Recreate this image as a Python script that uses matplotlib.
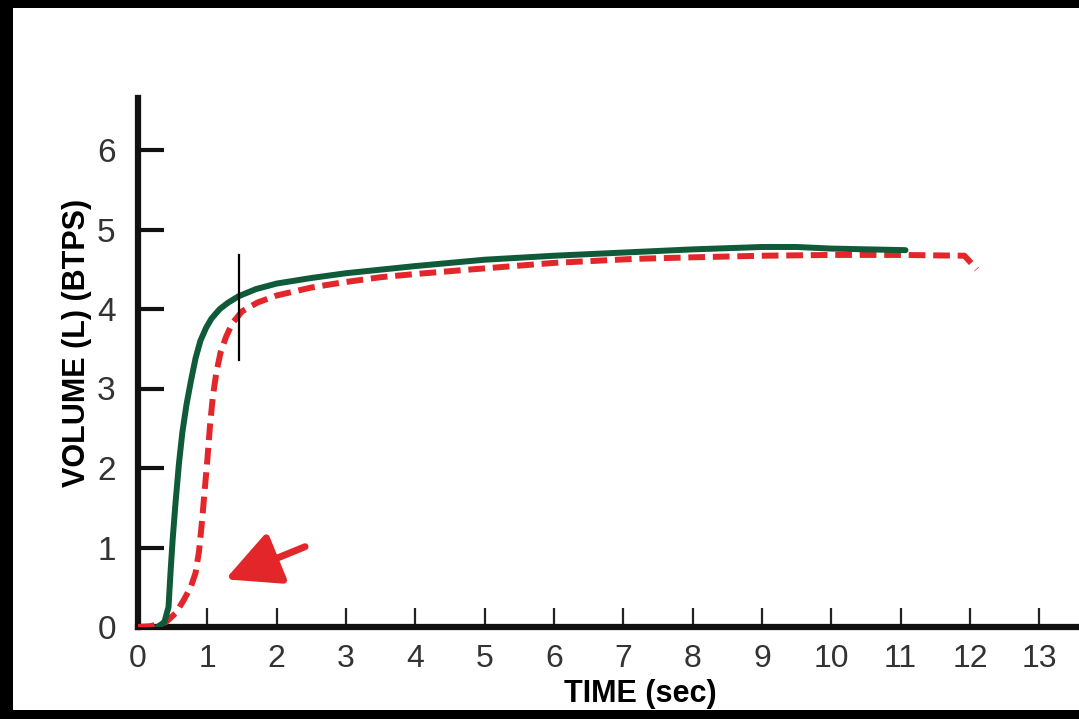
import matplotlib
matplotlib.use("Agg")
import matplotlib.pyplot as plt
from matplotlib.patches import Rectangle

# spirometry volume-time curves
green_t = [0.28, 0.38, 0.44, 0.47, 0.50, 0.54, 0.59, 0.64, 0.70, 0.76, 0.83, 0.90, 0.98,
           1.06, 1.18, 1.30, 1.45, 1.70, 2.00, 2.50, 3.00, 4.00, 5.00, 6.00, 7.00, 8.00,
           9.00, 9.50, 10.00, 11.07]
green_v = [0.00, 0.06, 0.25, 0.70, 1.10, 1.55, 2.05, 2.45, 2.80, 3.08, 3.38, 3.60, 3.76,
           3.88, 4.00, 4.08, 4.16, 4.25, 4.32, 4.39, 4.45, 4.54, 4.62, 4.67, 4.71, 4.75,
           4.78, 4.78, 4.76, 4.74]
red_t = [0.00, 0.18, 0.40, 0.55, 0.66, 0.76, 0.83, 0.88, 0.92, 0.96, 1.00, 1.04, 1.08,
         1.13, 1.19, 1.27, 1.36, 1.50, 1.72, 2.00, 2.50, 2.92, 3.50, 4.00, 4.84, 6.00,
         7.15, 8.00, 9.00, 10.00, 11.00, 11.92, 12.10]
red_v = [0.00, 0.01, 0.06, 0.18, 0.34, 0.50, 0.68, 0.95, 1.30, 1.70, 2.10, 2.55, 2.90,
         3.20, 3.45, 3.65, 3.82, 3.97, 4.08, 4.17, 4.27, 4.33, 4.40, 4.44, 4.50, 4.58,
         4.63, 4.65, 4.67, 4.68, 4.68, 4.67, 4.50]

marker_t = 1.45
marker_v = (3.36, 4.68)
arrow_tail = (2.41, 1.01)
arrow_head = (1.26, 0.60)

x_ticks = list(range(0, 14))
y_ticks = list(range(0, 7))

GREEN = "#0e5a39"
RED = "#e2262a"
TICK_FONT = ["Liberation Sans Narrow", "Liberation Sans", "DejaVu Sans"]
LABEL_FONT = ["Liberation Sans", "DejaVu Sans"]

W, H = 1079, 719
fig = plt.figure(figsize=(W / 100, H / 100), dpi=100)
ax = fig.add_axes([138 / W, (H - 627) / H, (W - 138) / W, (627 - 98) / H])

ax.plot(red_t, red_v, color=RED, lw=4.3, dashes=(2.8, 1.3), solid_capstyle="butt",
        zorder=3)
ax.plot(green_t, green_v, color=GREEN, lw=4.3, solid_capstyle="round", zorder=4)
ax.plot([marker_t, marker_t], marker_v, color="black", lw=1.6, zorder=5)

ax.annotate("", xy=arrow_head, xytext=arrow_tail,
            arrowprops=dict(arrowstyle="-|>,head_length=3.3,head_width=1.65",
                            color=RED, lw=5, shrinkA=0, shrinkB=0))

ax.set_xlim(0, (W - 138) / 69.33)
ax.set_ylim(0, (627 - 98) / 79.5)
ax.set_xticks(x_ticks)
ax.set_yticks(y_ticks)
ax.set_xticklabels([str(t) for t in x_ticks], family=TICK_FONT, fontsize=23,
                   color="#333333")
ax.set_yticklabels([str(t) for t in y_ticks], family=TICK_FONT, fontsize=24,
                   color="#333333")
ax.tick_params(axis="x", direction="in", length=14, width=1.6, pad=12, colors="#222222",
               labelcolor="#333333")
ax.tick_params(axis="y", direction="in", length=19, width=3.0, pad=16, colors="#111111",
               labelcolor="#333333")

for s in ("top", "right"):
    ax.spines[s].set_visible(False)
for s in ("left", "bottom"):
    ax.spines[s].set_linewidth(4.5)
    ax.spines[s].set_color("#111111")

ax.set_xlabel("TIME (sec)", family=LABEL_FONT, fontsize=22, fontweight="bold")
ax.set_ylabel("VOLUME (L) (BTPS)", family=LABEL_FONT, fontsize=22, fontweight="bold")
ax.xaxis.set_label_coords((640 - 138) / (W - 138), -(679 - 627) / (627 - 98))
ax.yaxis.set_label_coords(-(138 - 92) / (W - 138), (627 - 343) / (627 - 98))

# black picture frame (top, left, bottom)
for x0, y0, w, h in [(0, H - 8, W, 8), (0, 0, 13, H), (0, 0, W, 9)]:
    fig.add_artist(Rectangle((x0 / W, y0 / H), w / W, h / H, transform=fig.transFigure,
                             color="black", lw=0, zorder=10))

fig.savefig("out.png", dpi=100)
